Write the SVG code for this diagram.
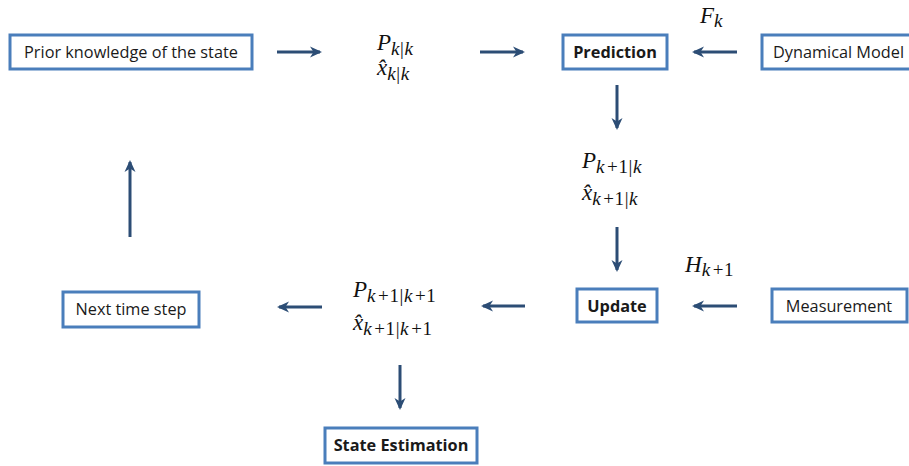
<svg xmlns="http://www.w3.org/2000/svg" width="909" height="466" viewBox="0 0 909 466">
<defs>
<style>
.box{fill:#fff;stroke:#4a7ebb;stroke-width:3}
.lbl{font-family:"Open Sans","Liberation Sans",sans-serif;font-size:16.3px;fill:#1a1a1a;text-anchor:middle}
.b{font-weight:bold}
.m{font-family:"Liberation Serif","DejaVu Serif",serif;font-style:italic;font-size:23px;fill:#111}
.s{font-size:19px;letter-spacing:0.6px}
.u{font-style:normal}
.ar{stroke:#2c4d75;stroke-width:3;fill:none;marker-end:url(#ah)}
</style>
<marker id="ah" viewBox="0 0 14 14" refX="11" refY="7" markerWidth="14" markerHeight="14" markerUnits="userSpaceOnUse" orient="auto">
<path d="M1,1.5 L13,7 L1,12.5 L4.5,7 z" fill="#2c4d75"/>
</marker>
</defs>
<rect width="909" height="466" fill="#fff"/>
<g id="connectors">
<line class="ar" x1="277" y1="52" x2="320" y2="52"/>
<line class="ar" x1="480" y1="52" x2="523" y2="52"/>
<line class="ar" x1="737" y1="52" x2="694" y2="52"/>
<line class="ar" x1="617" y1="85" x2="617" y2="128"/>
<line class="ar" x1="617" y1="227" x2="617" y2="270"/>
<line class="ar" x1="737" y1="306" x2="694" y2="306"/>
<line class="ar" x1="525" y1="306" x2="483" y2="306"/>
<line class="ar" x1="322" y1="307" x2="279" y2="307"/>
<line class="ar" x1="130" y1="237" x2="130" y2="162"/>
<line class="ar" x1="400" y1="365" x2="400" y2="408"/>
</g>
<g id="prior">
<rect class="box" x="10" y="35" width="242" height="34"/>
<text class="lbl" x="131" y="58">Prior knowledge of the state</text>
</g>
<g id="pkk">
<text class="m" x="377" y="50">P<tspan class="s" dy="5">k</tspan><tspan class="s u">|</tspan><tspan class="s">k</tspan></text>
<text class="m" x="377" y="75">x̂<tspan class="s" dy="5">k</tspan><tspan class="s u">|</tspan><tspan class="s">k</tspan></text>
</g>
<g id="prediction">
<rect class="box" x="563" y="35" width="104" height="34"/>
<text class="lbl b" x="615" y="58">Prediction</text>
</g>
<g id="fk">
<text class="m" x="700" y="23">F<tspan class="s" dy="4">k</tspan></text>
</g>
<g id="dynamical">
<rect class="box" x="762" y="35" width="152" height="34"/>
<text class="lbl" x="773" y="58" style="text-anchor:start">Dynamical Model</text>
</g>
<g id="pk1k">
<text class="m" x="582" y="168">P<tspan class="s" dy="5">k</tspan><tspan class="s u" dx="2">+1|</tspan><tspan class="s">k</tspan></text>
<text class="m" x="582" y="200">x̂<tspan class="s" dy="5">k</tspan><tspan class="s u" dx="2">+1|</tspan><tspan class="s">k</tspan></text>
</g>
<g id="hk1">
<text class="m" x="685" y="272">H<tspan class="s" dy="4">k</tspan><tspan class="s u" dx="2">+1</tspan></text>
</g>
<g id="update">
<rect class="box" x="577" y="289" width="80" height="33"/>
<text class="lbl b" x="617" y="312">Update</text>
</g>
<g id="measurement">
<rect class="box" x="772" y="289" width="135" height="33"/>
<text class="lbl" x="839" y="312">Measurement</text>
</g>
<g id="pk1k1">
<text class="m" x="353" y="297">P<tspan class="s" dy="5">k</tspan><tspan class="s u" dx="2">+1|</tspan><tspan class="s">k</tspan><tspan class="s u" dx="2">+1</tspan></text>
<text class="m" x="353" y="330">x̂<tspan class="s" dy="5">k</tspan><tspan class="s u" dx="2">+1|</tspan><tspan class="s">k</tspan><tspan class="s u" dx="2">+1</tspan></text>
</g>
<g id="next">
<rect class="box" x="63" y="292" width="136" height="35"/>
<text class="lbl" x="131" y="315">Next time step</text>
</g>
<g id="state">
<rect class="box" x="325" y="428" width="152" height="35"/>
<text class="lbl b" x="401" y="451">State Estimation</text>
</g>
</svg>
